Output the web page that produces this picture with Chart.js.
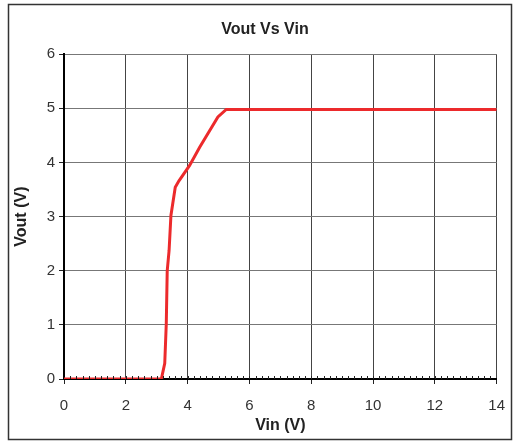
<!DOCTYPE html>
<html>
<head>
<meta charset="utf-8">
<script src="https://cdn.jsdelivr.net/npm/chart.js@4/dist/chart.umd.min.js"></script>
<style>
  html, body { margin: 0; padding: 0; background: #fff; }
  #wrap { width: 518px; height: 442px; }
</style>
</head>
<body>
<div id="wrap"><canvas id="chart"></canvas></div>
<script>
"use strict";
// Transfer curve
const vin  = [0, 3.15, 3.26, 3.31, 3.34, 3.4, 3.46, 3.6, 3.72, 4.06, 4.39, 4.98, 5.25, 14];
const vout = [0, 0, 0.29, 1.03, 2.0, 2.37, 3.02, 3.54, 3.66, 3.94, 4.28, 4.84, 4.98, 4.98];

const chartTitle = 'Vout Vs Vin';
const xTitle = 'Vin (V)';
const yTitle = 'Vout (V)';
const xMin = 0, xMax = 14, xStep = 2, xMinorStep = 0.2;
const yMin = 0, yMax = 6, yStep = 1;

const points = vin.map((v, i) => ({ x: v, y: vout[i] }));

// outer frame round the whole chart
const framePlugin = {
  id: 'frame',
  beforeDraw(chart) {
    const ctx = chart.ctx;
    ctx.save();
    ctx.fillStyle = '#fff';
    ctx.fillRect(0, 0, chart.width, chart.height);
    ctx.strokeStyle = '#333';
    ctx.lineWidth = 1.5;
    ctx.strokeRect(8.5, 4.5, chart.width - 15, chart.height - 7);
    ctx.restore();
  }
};

// small minor ticks sitting on the x axis
const minorTicks = {
  id: 'minorTicks',
  afterDatasetsDraw(chart) {
    const xs = chart.scales.x;
    const y0 = chart.scales.y.getPixelForValue(0);
    const ctx = chart.ctx;
    ctx.save();
    ctx.strokeStyle = '#222';
    ctx.lineWidth = 1;
    const n = Math.round((xMax - xMin) / xMinorStep);
    for (let i = 1; i < n; i++) {
      const px = Math.round(xs.getPixelForValue(xMin + i * xMinorStep)) + 0.5;
      ctx.beginPath();
      ctx.moveTo(px, y0);
      ctx.lineTo(px, y0 - 3);
      ctx.stroke();
    }
    ctx.restore();
  }
};

new Chart(document.getElementById('chart'), {
  type: 'line',
  data: {
    datasets: [{
      data: points,
      borderColor: '#ec2a2c',
      borderWidth: 3,
      pointRadius: 0,
      tension: 0,
      fill: false
    }]
  },
  options: {
    responsive: true,
    maintainAspectRatio: false,
    animation: false,
    layout: { padding: { left: 12, right: 0, top: 0, bottom: 0 } },
    plugins: {
      legend: { display: false },
      tooltip: { enabled: false },
      title: {
        display: true,
        text: chartTitle,
        color: '#222',
        font: { family: 'Liberation Sans, Arial, sans-serif', size: 16, weight: 'bold' },
        padding: { top: 20, bottom: 15 }
      }
    },
    scales: {
      x: {
        type: 'linear',
        min: xMin,
        max: xMax,
        ticks: {
          stepSize: xStep,
          color: '#333',
          padding: 13,
          font: { family: 'Liberation Sans, Arial, sans-serif', size: 15 }
        },
        grid: { color: '#444', lineWidth: 1, tickLength: 5, tickColor: '#222' },
        border: { color: '#000', width: 2 },
        title: {
          display: true,
          text: xTitle,
          color: '#222',
          font: { family: 'Liberation Sans, Arial, sans-serif', size: 16, weight: 'bold' },
          padding: { top: 0, bottom: 7 }
        },
        afterFit(scale) { scale.height = 63; }
      },
      y: {
        min: yMin,
        max: yMax,
        ticks: {
          stepSize: yStep,
          color: '#333',
          padding: 4,
          font: { family: 'Liberation Sans, Arial, sans-serif', size: 15 }
        },
        grid: { color: '#777', lineWidth: 1, tickLength: 5, tickColor: '#222' },
        border: { color: '#000', width: 2 },
        title: {
          display: true,
          text: yTitle,
          color: '#222',
          font: { family: 'Liberation Sans, Arial, sans-serif', size: 16, weight: 'bold' },
          padding: { top: 0, bottom: 4 }
        },
        afterFit(scale) { scale.width = 52; }
      },
      y2: {
        position: 'right',
        display: true,
        ticks: { display: false },
        grid: { display: false },
        border: { display: false },
        afterFit(scale) { scale.width = 20; }
      }
    }
  },
  plugins: [framePlugin, minorTicks]
});
</script>
</body>
</html>
